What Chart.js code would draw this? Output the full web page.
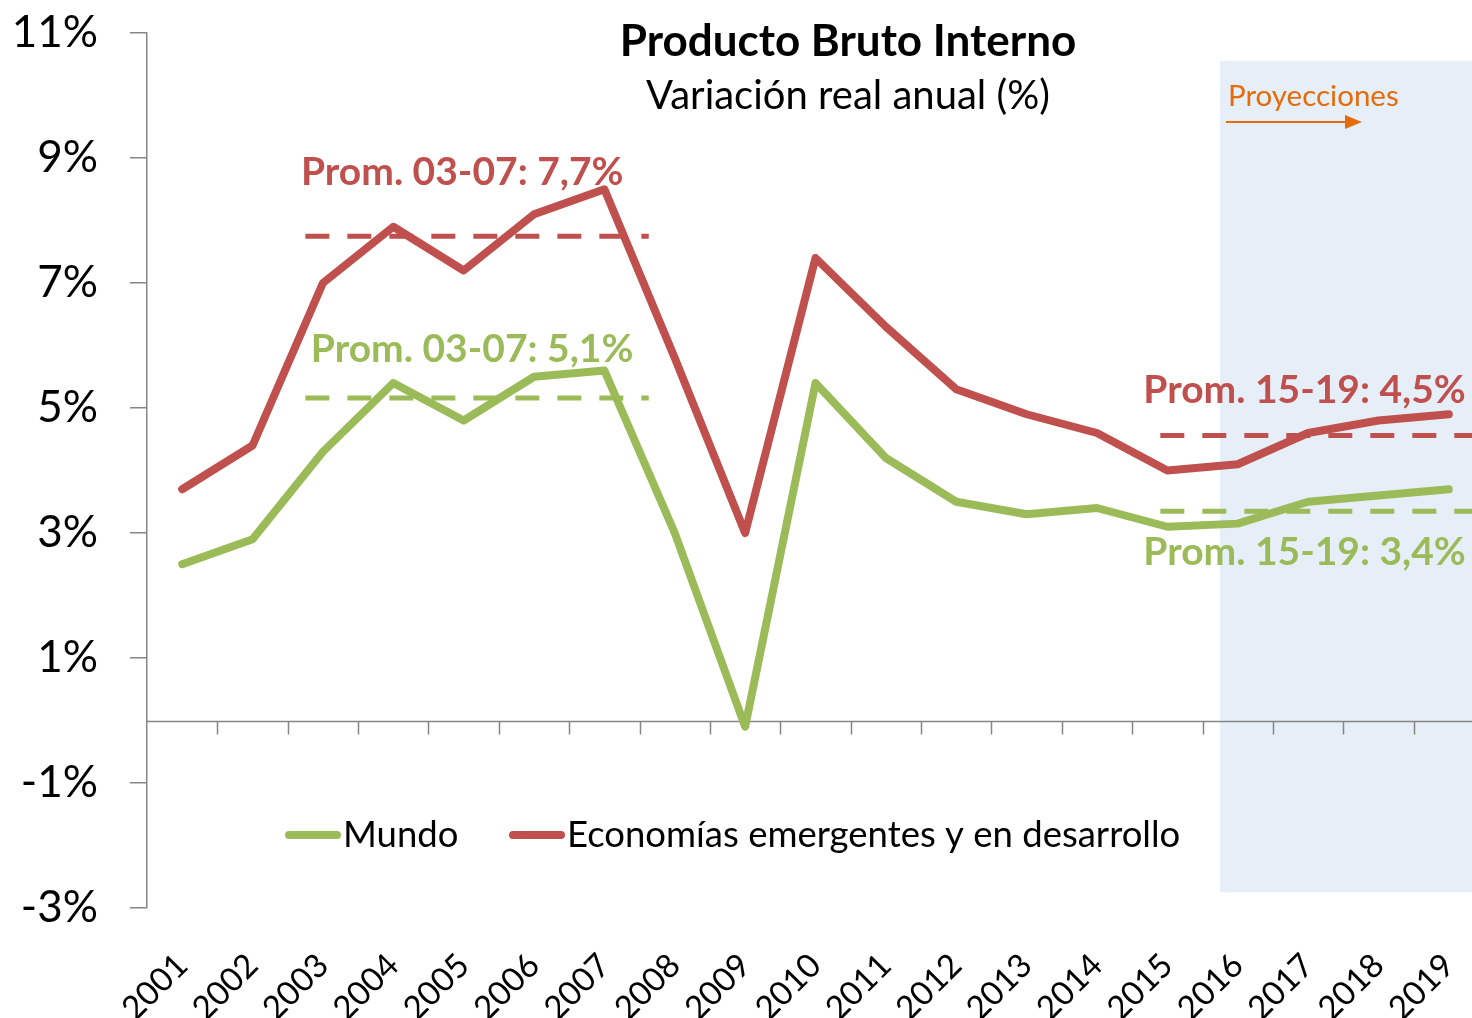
<!DOCTYPE html>
<html>
<head>
<meta charset="utf-8">
<script src="https://cdn.jsdelivr.net/npm/chart.js@4.4.1/dist/chart.umd.min.js"></script>
<style>
  html, body { margin: 0; padding: 0; background: #fff; overflow: hidden; }
  #wrap { width: 1484px; height: 1018px; }
</style>
</head>
<body>
<div id="wrap"><canvas id="chart" width="1484" height="1018"></canvas></div>
<script>
// Datos
const years = ['2001', '2002', '2003', '2004', '2005', '2006', '2007', '2008', '2009', '2010',
  '2011', '2012', '2013', '2014', '2015', '2016', '2017', '2018', '2019'];
const mundo = [2.5, 2.9, 4.3, 5.4, 4.8, 5.5, 5.6, 3.0, -0.1, 5.4, 4.2, 3.5, 3.3, 3.4, 3.1, 3.15, 3.5, 3.6, 3.7];
const emergentes = [3.7, 4.4, 7.0, 7.9, 7.2, 8.1, 8.5, 5.8, 3.0, 7.4, 6.3, 5.3, 4.9, 4.6, 4.0, 4.1, 4.6, 4.8, 4.9];
const yTicks = [-3, -1, 1, 3, 5, 7, 9, 11];
const promEmergentes = [7.75, 4.56];   // 03-07, 15-19
const promMundo = [5.16, 3.35];
const promLabels = ['Prom. 03-07: 7,7%', 'Prom. 03-07: 5,1%', 'Prom. 15-19: 4,5%', 'Prom. 15-19: 3,4%'];

const red = '#C0504D';
const green = '#9BBB59';
const axisGray = '#868686';
const font = 'Lato, "Open Sans", sans-serif';

// dashed average segments (in category index units)
const span1 = [1.75, 6.63];
const span2 = [13.9, 18.5];
function avgLine(val, span, color) {
  return {
    data: [{ x: span[0], y: val }, { x: span[1], y: val }],
    xAxisID: 'xl',
    borderColor: color,
    borderWidth: 5,
    borderDash: [24, 18],
    pointRadius: 0,
    fill: false
  };
}

const decor = {
  id: 'decor',
  beforeDatasetsDraw(chart) {
    const { ctx, chartArea, scales: { x, y } } = chart;
    const step = x.getPixelForValue(1) - x.getPixelForValue(0);
    ctx.save();
    // Proyecciones shade
    const sx = x.getPixelForValue(14) + step * 0.75;
    const sTop = y.getPixelForValue(10.55);
    const sBot = y.getPixelForValue(-2.75);
    ctx.fillStyle = '#E6EEF8';
    ctx.fillRect(sx, sTop, chartArea.right - sx, sBot - sTop);

    // zero axis with tick marks
    const y0 = Math.round(y.getPixelForValue(0)) + 0.5;
    ctx.strokeStyle = axisGray;
    ctx.lineWidth = 1.5;
    ctx.beginPath();
    ctx.moveTo(chartArea.left, y0);
    ctx.lineTo(chartArea.right, y0);
    for (let i = 1; i < years.length; i++) {
      const tx = Math.round(x.getPixelForValue(i) - step / 2) + 0.5;
      ctx.moveTo(tx, y0);
      ctx.lineTo(tx, y0 + 13);
    }
    ctx.stroke();
    ctx.restore();
  },
  afterDatasetsDraw(chart) {
    const { ctx, scales: { x, y } } = chart;
    ctx.save();
    ctx.textBaseline = 'middle';

    // title
    ctx.fillStyle = '#000';
    ctx.textAlign = 'center';
    ctx.font = 'bold 44px ' + font;
    ctx.fillText('Producto Bruto Interno', 848, 42);
    ctx.font = '40px ' + font;
    ctx.fillText('Variación real anual (%)', 848, 96);

    // average labels
    ctx.font = 'bold 39px ' + font;
    ctx.fillStyle = red;
    ctx.fillText(promLabels[0], x.getPixelForValue(3.98), y.getPixelForValue(8.77));
    ctx.fillText(promLabels[2], x.getPixelForValue(15.95), y.getPixelForValue(5.28));
    ctx.fillStyle = green;
    ctx.fillText(promLabels[1], x.getPixelForValue(4.12), y.getPixelForValue(5.94));
    ctx.fillText(promLabels[3], x.getPixelForValue(15.95), y.getPixelForValue(2.69));

    // Proyecciones
    const orange = '#E46C0A';
    ctx.textAlign = 'left';
    ctx.fillStyle = orange;
    ctx.font = '29.5px ' + font;
    ctx.fillText('Proyecciones', 1228, 96);
    ctx.strokeStyle = orange;
    ctx.lineWidth = 2;
    ctx.beginPath();
    ctx.moveTo(1226, 122);
    ctx.lineTo(1348, 122);
    ctx.stroke();
    ctx.beginPath();
    ctx.moveTo(1362, 122);
    ctx.lineTo(1345, 115);
    ctx.lineTo(1345, 129);
    ctx.closePath();
    ctx.fill();

    // legend
    const ly = 835;
    const items = [
      { label: chart.data.datasets[0].label, color: green, x: 285 },
      { label: chart.data.datasets[1].label, color: red, x: 509 }
    ];
    ctx.font = '36.5px ' + font;
    ctx.fillStyle = '#000';
    ctx.lineCap = 'round';
    ctx.lineWidth = 8;
    items.forEach(it => {
      ctx.strokeStyle = it.color;
      ctx.beginPath();
      ctx.moveTo(it.x + 4, ly);
      ctx.lineTo(it.x + 52, ly);
      ctx.stroke();
      ctx.fillText(it.label, it.x + 58, ly);
    });
    ctx.restore();
  }
};

new Chart(document.getElementById('chart'), {
  type: 'line',
  data: {
    labels: years,
    datasets: [
      { label: 'Mundo', data: mundo, borderColor: green, borderWidth: 8, pointRadius: 0,
        borderJoinStyle: 'round', borderCapStyle: 'round', fill: false },
      { label: 'Economías emergentes y en desarrollo', data: emergentes, borderColor: red, borderWidth: 8, pointRadius: 0,
        borderJoinStyle: 'round', borderCapStyle: 'round', fill: false },
      avgLine(promEmergentes[0], span1, red),
      avgLine(promMundo[0], span1, green),
      avgLine(promEmergentes[1], span2, red),
      avgLine(promMundo[1], span2, green)
    ]
  },
  options: {
    responsive: false,
    animation: false,
    layout: { padding: { top: 33, left: 0, right: 0, bottom: 0 } },
    plugins: {
      legend: { display: false },
      title: { display: false },
      tooltip: { enabled: false }
    },
    scales: {
      x: {
        type: 'category',
        offset: true,
        grid: { display: false },
        border: { display: false },
        ticks: {
          autoSkip: false,
          minRotation: 45,
          maxRotation: 45,
          color: '#000',
          padding: 30,
          font: { family: font, size: 33 }
        },
        afterFit: s => {
          s.height = 110;
          s.paddingLeft = 0;
          s.paddingRight = 0;
        }
      },
      xl: { type: 'linear', min: -0.5, max: 18.5, display: false },
      y: {
        min: yTicks[0],
        max: yTicks[yTicks.length - 1],
        afterBuildTicks: s => { s.ticks = yTicks.map(v => ({ value: v })); },
        ticks: {
          color: '#000',
          padding: 32,
          font: { family: font, size: 44 },
          callback: v => v + '%'
        },
        grid: { drawOnChartArea: false, tickLength: 17, color: axisGray, lineWidth: 1.5 },
        border: { color: axisGray, width: 1.5 },
        afterFit: s => {
          s.width = 147;
          s.paddingTop = 0;
          s.paddingBottom = 0;
        }
      }
    }
  },
  plugins: [decor]
});
</script>
</body>
</html>
